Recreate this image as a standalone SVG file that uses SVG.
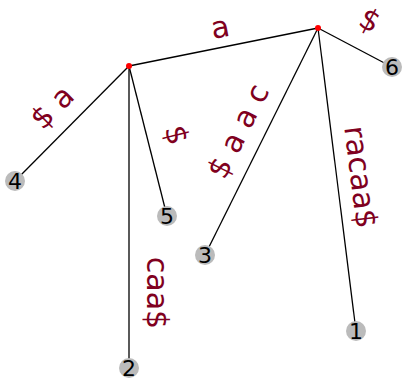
<svg xmlns="http://www.w3.org/2000/svg" width="402" height="379" viewBox="0 0 402 379">
<style>
.edge{stroke:#000;stroke-width:1.3;fill:none}
.inner{fill:#ff0000}
.leaf{fill:#bbbbbb}
.num{font-family:"DejaVu Sans",sans-serif;font-size:22px;fill:#000;text-anchor:middle;dominant-baseline:central}
.lbl{font-family:"DejaVu Sans",sans-serif;font-size:30px;fill:#800020;text-anchor:middle;dominant-baseline:central}
</style>
<rect width="402" height="379" fill="#fff"/>
<g id="connectors">
<line class="edge" x1="318" y1="28" x2="129" y2="66"/>
<line class="edge" x1="129" y1="66" x2="15" y2="181"/>
<line class="edge" x1="129" y1="66" x2="167" y2="216"/>
<line class="edge" x1="129" y1="66" x2="129" y2="368"/>
<line class="edge" x1="318" y1="28" x2="205" y2="255"/>
<line class="edge" x1="318" y1="28" x2="356" y2="331"/>
<line class="edge" x1="318" y1="28" x2="392" y2="67"/>
</g>
<g id="labels">
<text class="lbl" transform="translate(220,27) rotate(-11)">a</text>
<text class="lbl" transform="translate(52,107) rotate(-45)">$ a</text>
<text class="lbl" transform="translate(177,135) rotate(76)">$</text>
<text class="lbl" transform="translate(238,131) rotate(-63.5)">$ a a c</text>
<text class="lbl" transform="translate(370,20) rotate(28)">$</text>
<text class="lbl" transform="translate(361,177) rotate(83)">racaa$</text>
<text class="lbl" transform="translate(157,293) rotate(90)">caa$</text>
</g>
<g id="nodeA"><circle class="inner" cx="129" cy="66" r="3"/></g>
<g id="nodeB"><circle class="inner" cx="318" cy="28" r="3"/></g>
<g id="leaf1"><circle class="leaf" cx="356" cy="331" r="10"/><text class="num" x="356" y="331">1</text></g>
<g id="leaf2"><circle class="leaf" cx="129" cy="368" r="10"/><text class="num" x="129" y="368">2</text></g>
<g id="leaf3"><circle class="leaf" cx="205" cy="255" r="10"/><text class="num" x="205" y="255">3</text></g>
<g id="leaf4"><circle class="leaf" cx="15" cy="181" r="10"/><text class="num" x="15" y="181">4</text></g>
<g id="leaf5"><circle class="leaf" cx="167" cy="216" r="10"/><text class="num" x="167" y="216">5</text></g>
<g id="leaf6"><circle class="leaf" cx="392" cy="67" r="10"/><text class="num" x="392" y="67">6</text></g>
</svg>
